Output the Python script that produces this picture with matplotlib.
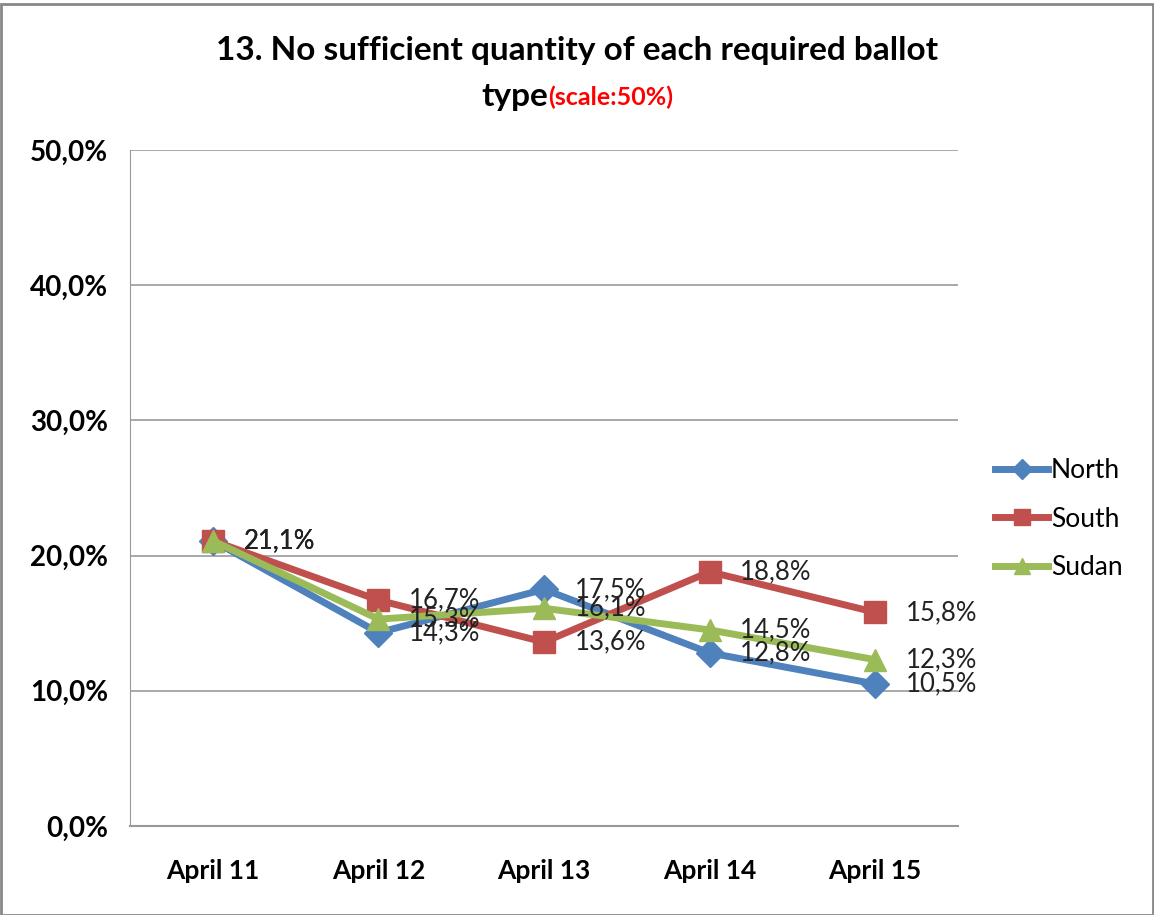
import matplotlib
matplotlib.use('Agg')
import matplotlib.pyplot as plt
from matplotlib.patches import Rectangle

plt.rcParams['font.family'] = ['Lato', 'DejaVu Sans']

days = ['April 11', 'April 12', 'April 13', 'April 14', 'April 15']
north = [21.1, 14.3, 17.5, 12.8, 10.5]
south = [21.1, 16.7, 13.6, 18.8, 15.8]
sudan = [21.1, 15.3, 16.1, 14.5, 12.3]
yticks = [0, 10, 20, 30, 40, 50]

series = [
    ('North', north, '#4F81BD', 'D', 14),
    ('South', south, '#C0504D', 's', 16),
    ('Sudan', sudan, '#9BBB59', '^', 16),
]

fig = plt.figure(figsize=(11.54, 9.15), dpi=100)
fig.patches.append(Rectangle((0.001, 0.0), 0.998, 0.996, transform=fig.transFigure,
                             fill=False, edgecolor='#888888', lw=2))
ax = fig.add_axes([0.1127, 0.0973, 0.7175, 0.7388])

x = list(range(len(days)))
for name, vals, col, mk, ms in series:
    ax.plot(x, vals, color=col, lw=5, marker=mk, markersize=ms,
            markeredgecolor=col, label=name, zorder=3)
    for xi, v in zip(x, vals):
        ax.annotate(('%.1f%%' % v).replace('.', ','), (xi, v),
                    xytext=(22, 0), textcoords='offset points',
                    ha='left', va='center', fontsize=18.5, color='#222222', zorder=4)

ax.set_xlim(-0.5, len(days) - 0.5)
ax.set_ylim(0, 50)
ax.set_yticks(yticks)
ax.set_yticklabels([('%.1f%%' % t).replace('.', ',') for t in yticks],
                   fontsize=20, fontweight='bold')
ax.set_xticks(x)
ax.set_xticklabels(days, fontsize=19, fontweight='bold')
ax.tick_params(axis='both', length=0)
ax.tick_params(axis='y', pad=16)
ax.tick_params(axis='x', pad=24)
ax.grid(axis='y', color='#999999', lw=1.2)
ax.set_axisbelow(True)
for s in ['top', 'right']:
    ax.spines[s].set_visible(False)
ax.spines['left'].set_color('#999999')
ax.spines['bottom'].set_color('#999999')
ax.spines['bottom'].set_linewidth(1.5)

leg = ax.legend(loc='center left', bbox_to_anchor=(1.045, 0.454), frameon=False,
                fontsize=19, handlelength=2.0, labelspacing=0.9, handletextpad=0.1,
                borderpad=0, borderaxespad=0, markerscale=0.75)

fig.text(0.5, 0.945, '13. No sufficient quantity of each required ballot',
         ha='center', va='center', fontsize=24, fontweight='bold')
fig.canvas.draw()
r = fig.canvas.get_renderer()
t1 = fig.text(0, 0.894, 'type', ha='left', va='center', fontsize=24, fontweight='bold')
t2 = fig.text(0, 0.894, '(scale:50%)', ha='left', va='center', fontsize=18,
              fontweight='bold', color='red')
w1 = t1.get_window_extent(r).width / fig.bbox.width
w2 = t2.get_window_extent(r).width / fig.bbox.width
start = 0.5 - (w1 + w2) / 2
t1.set_x(start)
t2.set_x(start + w1)

fig.savefig('out.png', dpi=100)
